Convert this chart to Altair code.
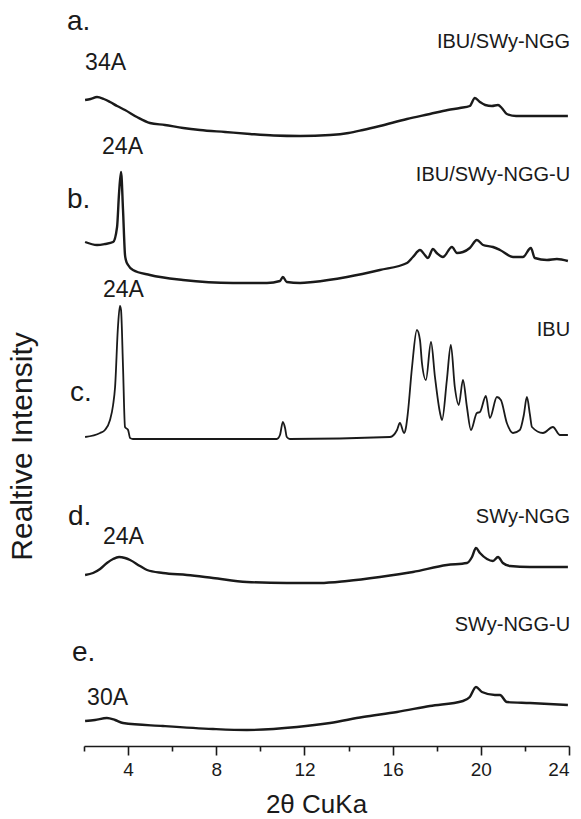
import altair as alt
import pandas as pd

# ---- data (2theta, stacked intensity in a.u.) ----
a_x = [2.05, 2.3, 2.59, 2.9, 3.18, 3.5, 3.86, 4.4, 4.99, 5.67, 6.5, 7.26, 8.4, 9.53, 10.6, 11.8, 13.16, 14.0, 14.65,
       15.42, 16.65, 17.69, 18.5, 19.05, 19.5, 19.73, 19.96, 20.2, 20.5, 20.78, 20.95, 21.18, 21.6, 22.23, 23.95]
a_y = [646, 647, 649, 647, 644, 640, 636, 629, 623, 621, 618, 616, 614, 612, 610.5, 610, 611, 613, 616,
       620, 627, 632, 636, 638, 640, 648, 644, 641, 640, 641, 638, 632, 630, 630, 630]

b_x = [2.05, 2.59, 2.95, 3.32, 3.5, 3.59, 3.68, 3.77, 3.86, 3.9, 4.0, 4.22, 4.99, 6.49, 8.76, 10.3, 10.89, 11.02,
       11.2, 11.8, 12.39, 13.93, 15.42, 16.65, 16.92, 17.24, 17.46, 17.6, 17.83, 18.0, 18.28, 18.69, 18.92, 19.19,
       19.5, 19.82, 20.1, 20.55, 20.87, 21.46, 21.91, 22.27, 22.45, 23.0, 23.45, 23.95]
b_y = [504, 501, 502, 504, 519, 553, 574, 536, 491, 486, 481, 476, 471, 466, 463, 463, 465, 469,
       464, 463, 464, 469, 476, 483, 489, 496, 491, 488, 497, 493, 489, 499, 493, 494,
       498, 506, 501, 499, 496, 489, 489, 498, 488, 486, 487, 485]

c_x = [2.05, 2.73, 2.95, 3.18, 3.32, 3.41, 3.54, 3.63, 3.68, 3.77, 3.86, 4.0, 4.09, 4.22, 7.26, 10.75, 10.89, 11.02,
       11.12, 11.2, 11.34, 15.88, 16.2, 16.33, 16.52, 16.6, 16.69, 16.88, 17.1, 17.24, 17.33, 17.51, 17.74, 17.92,
       18.15, 18.24, 18.46, 18.64, 18.82, 19.0, 19.19, 19.37, 19.55, 19.82, 19.96, 20.23, 20.41, 20.73, 20.91,
       21.18, 21.46, 21.77, 21.95, 22.09, 22.23, 22.32, 22.82, 23.27, 23.59, 23.95]
c_y = [309, 313, 316, 326, 341, 359, 419, 440, 436, 379, 319, 316, 308, 307, 307, 307, 311, 324,
       318, 309, 307, 309, 316, 323, 313, 318, 333, 379, 416, 406, 383, 366, 404, 369,
       333, 326, 366, 401, 359, 341, 366, 339, 316, 333, 334, 350, 328, 349, 346,
       323, 313, 316, 331, 349, 331, 319, 313, 319, 311, 311]

d_x = [2.05, 2.41, 2.73, 3.04, 3.32, 3.59, 3.86, 4.09, 4.54, 4.86, 5.58, 6.67, 7.85, 9.39, 11.2, 12.7, 13.93,
       15.42, 16.92, 18.46, 19.37, 19.6, 19.78, 19.96, 20.28, 20.55, 20.78, 21.0, 21.32, 22.23, 23.95]
d_y = [171, 173, 177, 183, 187, 189, 188, 186, 180, 176, 173, 171, 168, 164, 163, 163, 165,
       169, 174, 181, 183, 189, 198, 193, 187, 185, 189, 183, 180, 179, 179]

e_x = [2.05, 2.5, 3.04, 3.41, 3.77, 5.58, 7.85, 9.39, 11.66, 13.16, 14.65, 16.2, 17.69, 19.19, 19.5, 19.78,
       20.05, 20.64, 20.87, 21.18, 22.23, 23.95]
e_y = [25, 26, 28, 26, 23, 20, 17, 16, 19, 23, 29, 34, 40, 45, 49, 59,
       54, 51, 51, 44, 43, 41]

series = ["a", "b", "c", "d", "e"]
xs = [a_x, b_x, c_x, d_x, e_x]
ys = [a_y, b_y, c_y, d_y, e_y]

# annotations
left_text = ["a.", "34A", "24A", "b.", "24A", "c.", "d.", "24A", "e.", "30A"]
left_x = [1.23, 2.05, 2.82, 1.23, 2.86, 1.36, 1.27, 2.86, 1.45, 2.14]
left_y = [724, 683, 599, 546, 456, 353, 229, 209, 93, 48]
left_fs = [28, 23, 23, 28, 23, 28, 28, 23, 28, 23]

right_text = ["IBU/SWy-NGG", "IBU/SWy-NGG-U", "IBU", "SWy-NGG", "SWy-NGG-U"]
right_x = [24.05, 24.05, 24.05, 24.05, 24.05]
right_y = [704, 571, 416, 229, 121]

tick_values = [2, 4, 6, 8, 10, 12, 14, 16, 18, 20, 22, 24]

rows = []
for s, xx, yy in zip(series, xs, ys):
    for x, y in zip(xx, yy):
        rows.append({"trace": s, "theta": x, "inten": y})
df = pd.DataFrame(rows)

ldf = pd.DataFrame({"t": left_text, "x": left_x, "y": left_y, "fs": left_fs})
rdf = pd.DataFrame({"t": right_text, "x": right_x, "y": right_y})

FONT = "Liberation Sans"
INK = "#1a1a1a"

xscale = alt.Scale(domain=[2, 24], nice=False, zero=False)
yscale = alt.Scale(domain=[0, 746], nice=False, zero=False)

xenc = alt.X("theta:Q", scale=xscale,
             axis=alt.Axis(values=tick_values, grid=False,
                           tickSize={"condition": {"test": "datum.value % 4 == 0", "value": 9}, "value": 5},
                           labelExpr="datum.value % 4 == 0 ? datum.label : ''",
                           labelFont=FONT, labelFontSize=19, labelColor=INK, labelPadding=5,
                           domainColor=INK, domainWidth=1.6, tickColor=INK, tickWidth=1.6,
                           title="2θ CuKa", titleFont=FONT, titleFontSize=26, titleFontWeight="normal",
                           titleColor=INK, titleX=232, titleY=58, titleBaseline="middle", titleAlign="center"))
yenc = alt.Y("inten:Q", scale=yscale,
             axis=alt.Axis(domain=False, ticks=False, labels=False, grid=False,
                           title="Realtive Intensity", titleFont=FONT, titleFontSize=30,
                           titleFontWeight="normal", titleColor=INK, titleX=-62, titleY=446,
                           titleBaseline="middle", titleAlign="center"))

base = alt.Chart(df).encode(x=xenc, y=yenc, detail="trace:N")
noisy = base.transform_filter("datum.trace != 'c'").mark_line(
    color=INK, strokeWidth=2.4, interpolate="monotone")
smooth = base.transform_filter("datum.trace == 'c'").mark_line(
    color=INK, strokeWidth=1.8, interpolate="monotone")

ltext = alt.Chart(ldf).mark_text(align="left", baseline="middle", font=FONT, color=INK).encode(
    x=alt.X("x:Q", scale=xscale), y=alt.Y("y:Q", scale=yscale), text="t:N",
    size=alt.Size("fs:Q", scale=None, legend=None),
)

rtext = alt.Chart(rdf).mark_text(align="right", baseline="middle", font=FONT, color=INK, fontSize=20).encode(
    x=alt.X("x:Q", scale=xscale), y=alt.Y("y:Q", scale=yscale), text="t:N",
)

chart = alt.layer(noisy, smooth, ltext, rtext).properties(
    width=485, height=746,
    padding={"left": 84, "top": 0, "right": 12, "bottom": 73},
    autosize=alt.AutoSizeParams(type="none"),
).configure_view(stroke=None)

chart.save("out.html", embed_options={"renderer": "svg", "actions": False})
